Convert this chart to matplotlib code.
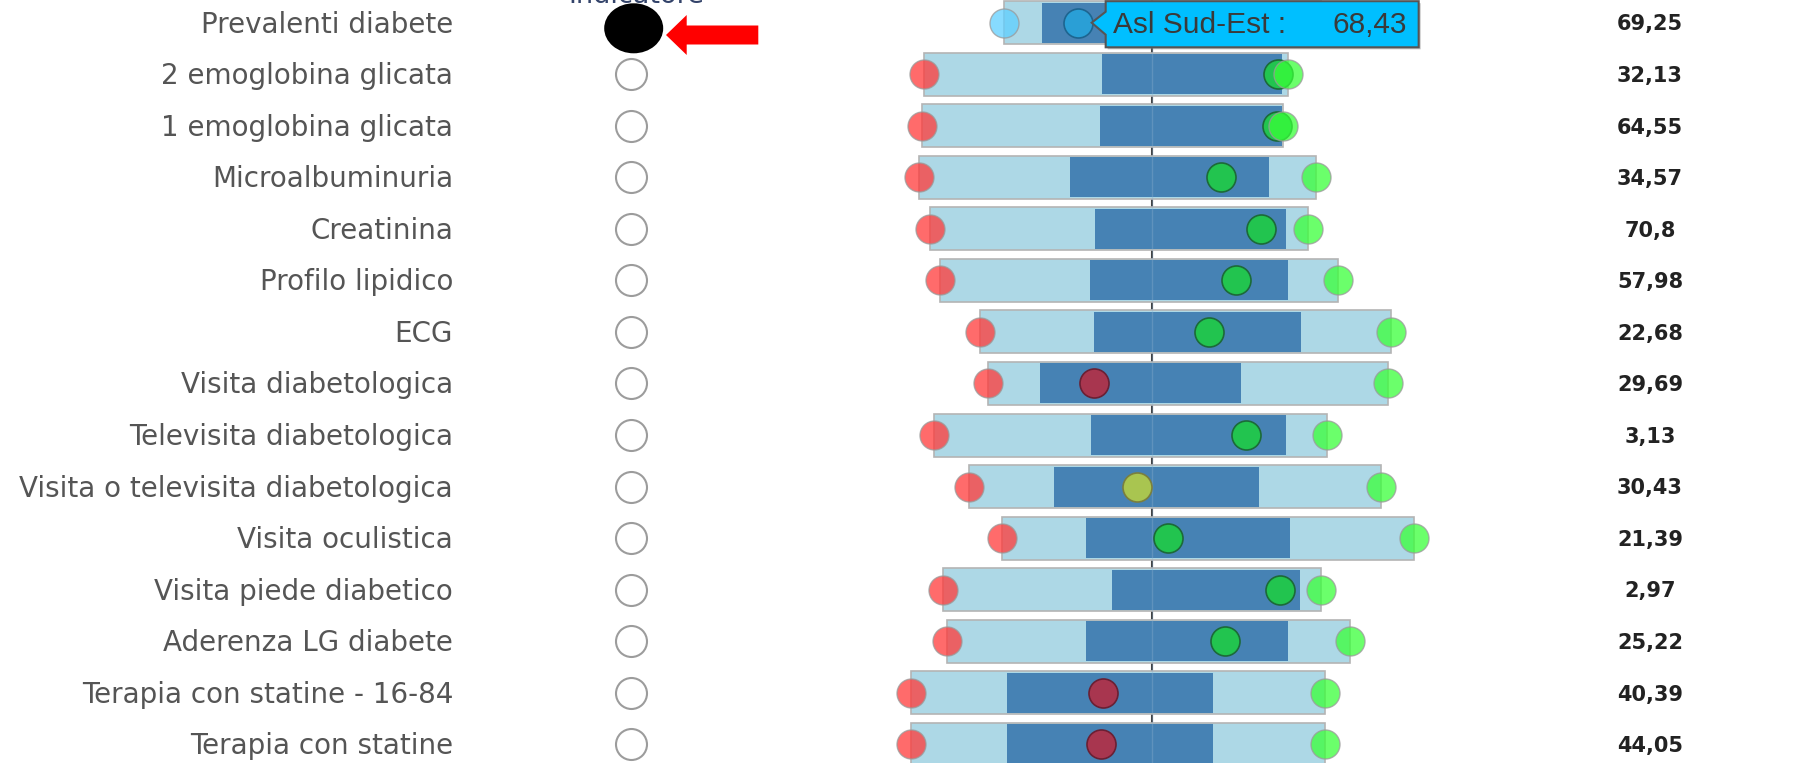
import matplotlib.pyplot as plt
import matplotlib.patches as mpatches
import matplotlib.transforms as mtransforms
import numpy as np

# indicators, regional reference (right column) and ASL distribution per indicator
indicators = [
    "Prevalenti diabete",
    "2 emoglobina glicata",
    "1 emoglobina glicata",
    "Microalbuminuria",
    "Creatinina",
    "Profilo lipidico",
    "ECG",
    "Visita diabetologica",
    "Televisita diabetologica",
    "Visita o televisita diabetologica",
    "Visita oculistica",
    "Visita piede diabetico",
    "Aderenza LG diabete",
    "Terapia con statine - 16-84",
    "Terapia con statine",
]
regional = [69.25, 32.13, 64.55, 34.57, 70.8, 57.98, 22.68, 29.69,
            3.13, 30.43, 21.39, 2.97, 25.22, 40.39, 44.05]
asl_min = [67.62, 29.62, 62.02, 32.01, 68.36, 55.65, 20.79, 27.88,
           0.73, 28.42, 19.74, 0.67, 22.96, 37.74, 41.40]
asl_q1 = [68.04, 31.58, 63.98, 33.67, 70.17, 57.29, 22.04, 28.46,
          2.46, 29.35, 20.66, 2.53, 24.49, 38.79, 42.45]
asl_q3 = [70.30, 33.55, 65.97, 35.85, 72.27, 59.47, 24.31, 30.66,
          4.60, 31.60, 22.90, 4.59, 26.71, 41.06, 44.72]
asl_max = [71.10, 33.62, 65.99, 36.37, 72.51, 60.02, 25.30, 32.28,
           5.05, 32.94, 24.27, 4.82, 27.39, 42.29, 45.95]
asl_value = [68.43, 33.51, 65.92, 35.33, 71.99, 58.90, 23.30, 29.05,
             4.16, 30.26, 21.56, 4.37, 26.02, 39.85, 43.49]
status = ["neutral", "good", "good", "good", "good", "good", "good", "bad",
          "good", "mid", "good", "good", "good", "bad", "bad"]
asl_name = "Asl Sud-Est"
selected = 0

W, H, DPI = 1793, 763, 100
CENTER_PX = 1152.3      # where the regional reference sits
PX_PER_POINT = 91.0     # horizontal scale
ROW0_PX, ROW_PX = 22.7, 51.54

fill = {"good": "#22c44f", "bad": "#a8364f", "mid": "#a9c550", "neutral": "#2a9fd6"}
edge = {"good": "#1c6a38", "bad": "#6a2034", "mid": "#7a7f3e", "neutral": "#1d6590"}

fmt = lambda v: f"{v:g}".replace(".", ",")

fig = plt.figure(figsize=(W / DPI, H / DPI), dpi=DPI)
ax = fig.add_axes([0, 0, 1, 1])
ax.set_axis_off()
ax.set_xlim(-CENTER_PX / PX_PER_POINT, (W - CENTER_PX) / PX_PER_POINT)
ax.set_ylim((H - ROW0_PX) / ROW_PX, -ROW0_PX / ROW_PX)

n = len(indicators)
y = np.arange(n)
ref = np.array(regional)
lo = np.array(asl_min) - ref
q1 = np.array(asl_q1) - ref
q3 = np.array(asl_q3) - ref
hi = np.array(asl_max) - ref
val = np.array(asl_value) - ref

# reference line
ax.axvline(0, color="#3d3d3d", lw=1.5, zorder=1)

# full range and inter-quartile bars
ax.barh(y, hi - lo, left=lo, height=0.834, color="#add8e6",
        edgecolor="#b4b4b4", lw=1.2, zorder=2)
ax.barh(y, q3 - q1, left=q1, height=0.776, color="#4682b4", lw=0, zorder=3)
ax.axvline(0, color="#8fb0d0", lw=1, alpha=0.35, zorder=3.5)

# ASL value, then min / max markers on top
ms = 436
for i in range(n):
    ax.scatter(val[i], y[i], s=ms, color=fill[status[i]], edgecolor=edge[status[i]],
               lw=1.2, zorder=4)
    neutral = status[i] == "neutral"
    ax.scatter(lo[i], y[i], s=ms, color="#5fcfff" if neutral else "#ff3939",
               alpha=0.75, edgecolor="#9a9a9a", lw=1, zorder=5)
    ax.scatter(hi[i], y[i], s=ms, color="#5fcfff" if neutral else "#39ff39",
               alpha=0.75, edgecolor="#9a9a9a", lw=1, zorder=5)

# left labels, selection column, right values
yx = ax.get_yaxis_transform()
for i in range(n):
    ax.text(453 / W, y[i] + 10 / ROW_PX, indicators[i], transform=yx, ha="right",
            va="baseline", fontsize=20, color="#555555")
    ax.text(1650 / W, y[i] + 7.8 / ROW_PX, fmt(regional[i]), transform=yx,
            ha="center", va="baseline", fontsize=15, fontweight="bold", color="#222222")

others = [i for i in range(n) if i != selected]
ax.scatter(np.full(len(others), 631 / W), y[others], s=498, facecolor="white",
           edgecolor="#9c9c9c", lw=1.5, transform=yx, zorder=4)
ax.add_patch(mpatches.Ellipse((633.7 / W, selected + 5.6 / ROW_PX), 59 / W, 50 / ROW_PX,
                              facecolor="black", edgecolor="none", transform=yx, zorder=5))

fig.text(636 / W, 1 - 3 / H, "Indicatore", ha="center", va="baseline",
         fontsize=19.5, color="#33436a")

# red pointer next to the selected indicator
ident = mtransforms.IdentityTransform()
ex, ey = ax.transData.transform((0, selected))
ex = 633.7
ey = ey - 5.6
arrow = [(32.3, 6.7), (53, -13.3), (53, -2.8), (124.6, -2.8),
         (124.6, 16.2), (53, 16.2), (53, 26.7)]
ax.add_patch(mpatches.Polygon([(ex + dx, ey - dy) for dx, dy in arrow], closed=True,
                              facecolor="#ff0000", edgecolor="none",
                              transform=ident, zorder=6))

# tooltip on the selected ASL value
tx, ty = ax.transData.transform((val[selected], selected))
tip = [(14, 0), (28, -11), (28, -21.5), (341, -21.5), (341, 24.6), (28, 24.6), (28, 12)]
ax.add_patch(mpatches.Polygon([(tx + dx + 2, ty - dy - 2) for dx, dy in tip], closed=True,
                              facecolor="#888888", edgecolor="none", alpha=0.5,
                              transform=ident, zorder=7))
ax.add_patch(mpatches.Polygon([(tx + dx, ty - dy) for dx, dy in tip], closed=True,
                              facecolor="#00bfff", edgecolor="#555555", lw=1.5,
                              transform=ident, zorder=8))
ax.text(tx + 35.6, ty - 10.6, f"{asl_name} :", transform=ident, ha="left",
        va="baseline", fontsize=21.5, family="Liberation Sans", color="#3a3a3a", zorder=9)
ax.text(tx + 329, ty - 10.6, f"{asl_value[selected]:.2f}".replace(".", ","),
        transform=ident, ha="right", va="baseline", fontsize=21.5,
        family="Liberation Sans", color="#3a3a3a", zorder=9)

fig.savefig("out.png", dpi=DPI)
